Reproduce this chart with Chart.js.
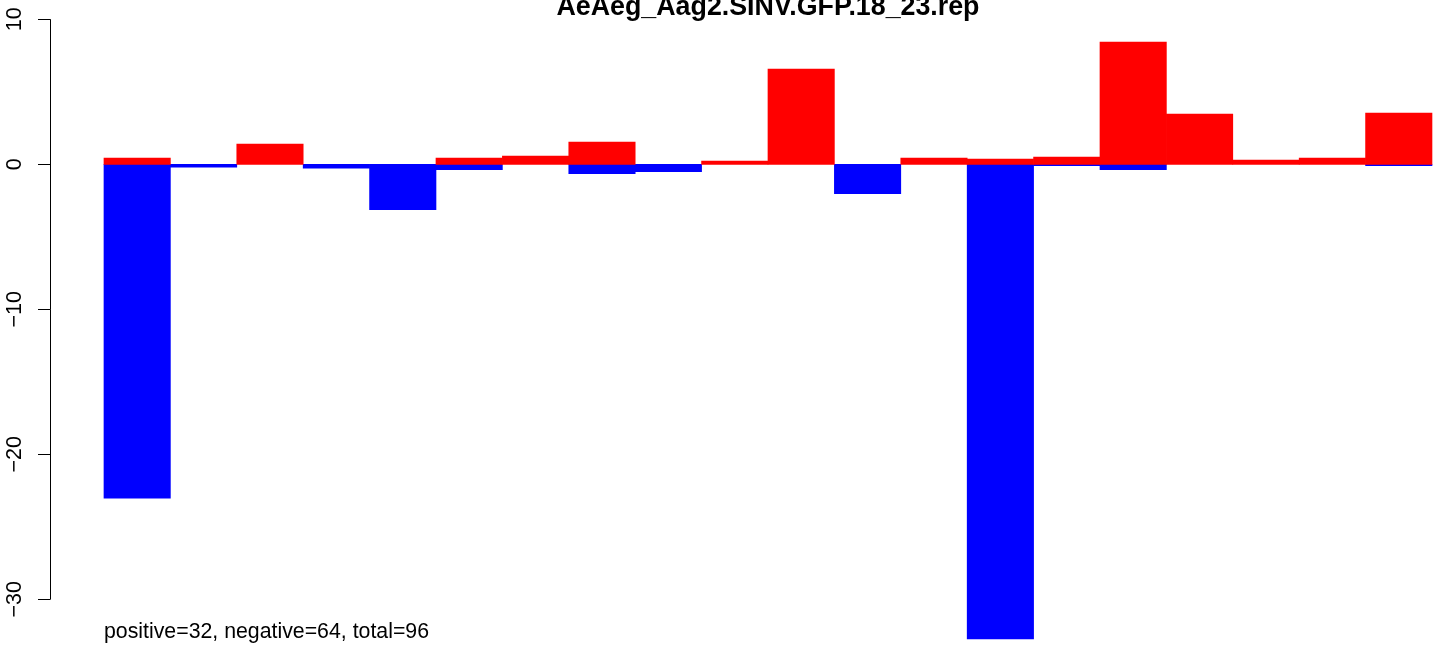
<!DOCTYPE html>
<html>
<head>
<meta charset="utf-8">
<script src="https://cdn.jsdelivr.net/npm/chart.js@4"></script>
<style>
html,body{margin:0;padding:0;background:#fff;}
#wrap{width:1444px;height:650px;}
</style>
</head>
<body>
<div id="wrap"><canvas id="c" width="1444" height="650"></canvas></div>
<script>
const chartTitle = "AeAeg_Aag2.SINV.GFP.18_23.rep";
const footText = "positive=32, negative=64, total=96";
const categories = [1,2,3,4,5,6,7,8,9,10,11,12,13,14,15,16,17,18,19,20];
const positiveValues = [0.43, 0, 1.40, 0, 0, 0.43, 0.57, 1.54, 0, 0.23, 6.57, 0, 0.43, 0.36, 0.50, 8.43, 3.47, 0.29, 0.43, 3.54];
const negativeValues = [-23.03, -0.20, 0, -0.26, -3.13, -0.37, 0, -0.65, -0.51, 0, 0, -2.03, 0, -32.74, -0.10, -0.37, 0, 0, 0, -0.10];
const yTicks = [10, 0, -10, -20, -30];

// zero-height bars are simply not drawn (as in the original)
function toPoints(vals){ return vals.map((v,i)=>({x: i + 0.5, y: v === 0 ? null : v})); }

const rAxisPlugin = {
  id: 'rAxis',
  afterDraw(chart){
    const ctx = chart.ctx;
    const ys = chart.scales.y, xs = chart.scales.x;
    const ax = chart.chartArea.left;
    ctx.save();
    ctx.strokeStyle = '#000';
    ctx.lineWidth = 1;
    ctx.beginPath();
    const yTop = ys.getPixelForValue(yTicks[0]);
    const yBot = ys.getPixelForValue(yTicks[yTicks.length-1]);
    ctx.moveTo(ax + 0.5, yTop);
    ctx.lineTo(ax + 0.5, yBot);
    ys.ticks.forEach(t => {
      const py = Math.round(ys.getPixelForValue(t.value)) + 0.5;
      ctx.moveTo(ax + 0.5, py);
      ctx.lineTo(ax - 12, py);
    });
    ctx.stroke();
    ctx.fillStyle = '#000';
    ctx.font = '21.5px "Liberation Sans", Arial, sans-serif';
    ctx.textAlign = 'center';
    ctx.textBaseline = 'alphabetic';
    ys.ticks.forEach(t => {
      const py = ys.getPixelForValue(t.value);
      const lbl = t.value < 0 ? '\u2212' + Math.abs(t.value) : String(t.value);
      ctx.save();
      ctx.translate(20.7, py);
      ctx.rotate(-Math.PI/2);
      ctx.fillText(lbl, 0, 0);
      ctx.restore();
    });
    // title
    ctx.font = 'bold 26.8px "Liberation Sans", Arial, sans-serif';
    ctx.textAlign = 'center';
    ctx.fillText(chartTitle, xs.getPixelForValue(categories.length/2), 15);
    // footer text
    ctx.font = '21.3px "Liberation Sans", Arial, sans-serif';
    ctx.textAlign = 'left';
    ctx.fillText(footText, xs.getPixelForValue(0), 638);
    ctx.restore();
  }
};

new Chart(document.getElementById('c'), {
  type: 'bar',
  data: {
    datasets: [
      { label: 'positive', data: toPoints(positiveValues), backgroundColor: '#FF0000', borderWidth: 0, barPercentage: 1, categoryPercentage: 1 },
      { label: 'negative', data: toPoints(negativeValues), backgroundColor: '#0000FF', borderWidth: 0, barPercentage: 1, categoryPercentage: 1 }
    ]
  },
  options: {
    responsive: false,
    animation: false,
    devicePixelRatio: 1,
    layout: { padding: { top: 19.3, bottom: 7.2, left: 0, right: 0 } },
    plugins: { legend: { display: false }, tooltip: { enabled: false }, title: { display: false } },
    scales: {
      x: { type: 'linear', display: false, stacked: true, min: -0.813, max: -0.813 + 1394/66.4, offset: false },
      y: {
        stacked: true, min: -33, max: 10,
        afterBuildTicks(scale){ scale.ticks = yTicks.map(v => ({value: v})); },
        afterFit(scale){ scale.width = 50; },
        grid: { display: false, drawTicks: false },
        border: { display: false },
        ticks: { display: false }
      }
    }
  },
  plugins: [rAxisPlugin]
});
</script>
</body>
</html>
